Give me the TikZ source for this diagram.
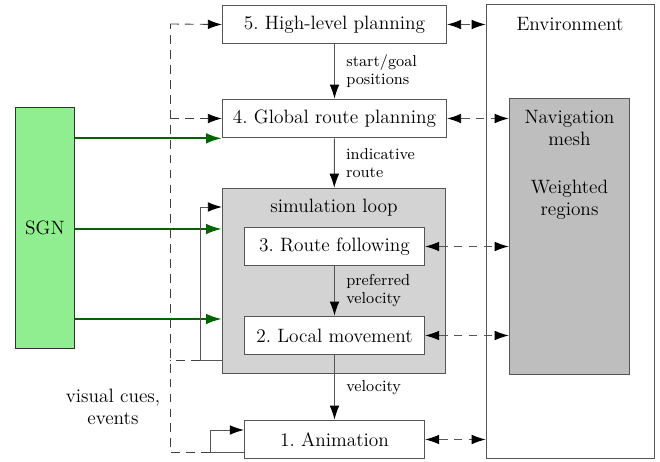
\documentclass[tikz,border=0pt]{standalone}
\definecolor{sgngreen}{HTML}{90EE90}
\definecolor{sgnarrow}{HTML}{006400}
\definecolor{loopgray}{HTML}{D3D3D3}
\definecolor{meshgray}{HTML}{BEBEBE}
\definecolor{edgegray}{HTML}{555555}
\usepackage{tikz}
\usetikzlibrary{arrows.meta, positioning, calc}

\begin{document}
\begin{tikzpicture}[x=0.02cm,y=-0.02cm,
        font=\fontsize{11}{12.5}\selectfont,
        tip/.style={-{Latex[length=8pt,width=5.5pt,color=black]}},
        stage/.style={draw=edgegray, fill=white, line width=0.6pt, minimum height=22pt, inner sep=0pt},
        wide/.style={stage, minimum width=127.6pt},
        narrow/.style={stage, minimum width=102.6pt},
        area/.style={draw=edgegray, line width=0.6pt, inner sep=0pt},
        flow/.style={draw=edgegray, line width=0.5pt, tip},
        link/.style={draw=edgegray, line width=0.5pt, dash pattern=on 5pt off 3.5pt,
                     {Latex[length=8pt,width=5.5pt,color=black]}-{Latex[length=8pt,width=5.5pt,color=black]}},
        cue/.style={draw=black!75, line width=0.5pt, dash pattern=on 5pt off 3.5pt},
        sgnflow/.style={draw=sgnarrow, line width=1.2pt, -{Latex[length=9pt,width=6pt]}},
        note/.style={font=\fontsize{9}{10.2}\selectfont, align=left, right, inner sep=0pt, xshift=6.5pt}]
    \useasboundingbox (0,0) rectangle (660,462);

    % environment on the right
    \node[area, fill=white, minimum width=96pt, minimum height=258pt] (env) at (570.5,231.5) {};
    \node (envlbl) at (570,24) {Environment};
    \node[area, fill=meshgray, minimum width=68.6pt, minimum height=157pt] (mesh) at (569.5,236.5) {};
    \node[align=center, anchor=north] (meshlbl) at (569.5,104) {Navigation\\mesh\\[15pt]Weighted\\regions};

    % stages
    \node[wide] (high) at (334.5,24.5) {5.~High-level planning};
    \node[wide] (global) at (334.5,118.5) {4.~Global route planning};
    \node[area, fill=loopgray, minimum width=127pt, minimum height=105.5pt] (loop) at (334,281) {};
    \node (looplbl) at (334,208) {simulation loop};
    \node[narrow] (route) at (334.5,246.5) {3.~Route following};
    \node[narrow] (local) at (334.5,335.5) {2.~Local movement};
    \node[narrow] (anim) at (334.5,439.5) {1.~Animation};

    % SGN
    \node[draw=black!80, fill=sgngreen, line width=0.6pt, minimum width=34pt, minimum height=137pt, inner sep=0pt] (sgn) at (45,228) {SGN};

    % pipeline
    \draw[flow] (high) -- node[note] {start/goal\\positions} (global);
    \draw[flow] (global) -- node[note] {indicative\\route} (loop);
    \draw[flow] (route) -- node[note] {preferred\\velocity} (local);
    \draw[flow] (local) -- node[note, pos=0.5] {velocity} (anim);

    % environment queries
    \draw[link] (high.east) -- (high.east -| env.west);
    \draw[link] (global.east) -- (global.east -| mesh.west);
    \draw[link] (route.east) -- (route.east -| mesh.west);
    \draw[link] (local.east) -- (local.east -| mesh.west);
    \draw[link] (anim.east) -- (anim.east -| env.west);

    % SGN inputs
    \draw[sgnflow] (sgn.east |- global.south) -- (global.south west);
    \draw[sgnflow] (sgn.east |- 0,229) -- (loop.west |- 0,229);
    \draw[sgnflow] (sgn.east |- 0,319) -- (loop.west |- 0,319);

    % feedback loops
    \coordinate (loopout) at (200,360);
    \coordinate (animout) at (210,452);
    \coordinate (cuetop) at (170,24);
    \coordinate (cuebot) at (170,452);
    \draw[flow] (loop.west |- loopout) -- (loopout) |- (loop.west |- 0,207);
    \draw[flow] (anim.west |- animout) -- (animout) |- (anim.west |- 0,430);
    \draw[cue] (animout) -- (cuebot) -- (cuetop);
    \draw[cue] (loopout) -- (loopout -| cuebot);
    \draw[cue, tip] (cuetop) -- (high.west);
    \draw[cue, tip] (global.west -| cuetop) -- (global.west);
    \node[align=center] (cues) at (113,407) {visual cues,\\events};
\end{tikzpicture}
\end{document}
